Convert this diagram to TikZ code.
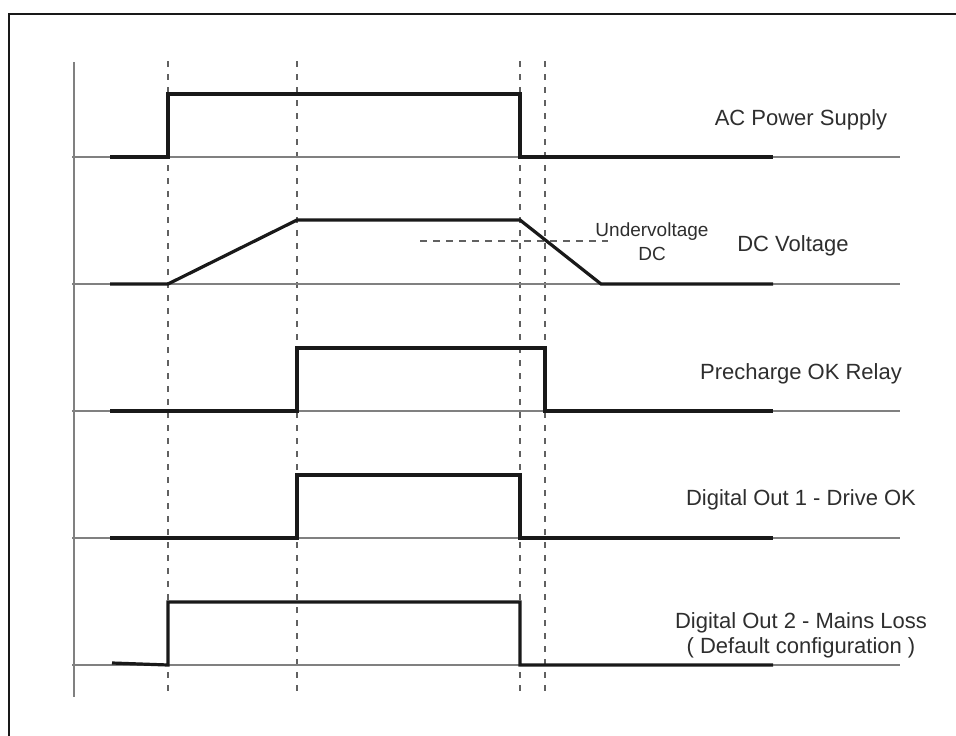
\documentclass[tikz,border=0pt]{standalone}
\usepackage{fontspec}
\setmainfont{Liberation Sans}
\begin{document}
\begin{tikzpicture}[x=1pt,y=-1pt,
  base/.style={draw=black!50, line width=1.6pt},
  sig/.style={draw=black!90, line width=3.2pt, line join=miter},
  guide/.style={draw=black!62, line width=1.6pt, dash pattern=on 6pt off 7pt},
  lbl/.style={text=black!82, font=\fontsize{22}{26}\selectfont, inner sep=0pt, align=center},
  slbl/.style={text=black!82, font=\fontsize{19}{22}\selectfont, inner sep=0pt, align=center}]
\useasboundingbox (0,0) rectangle (956,736);
% frame
\draw[line width=2pt, black!90] (8.5,736) -- (8.5,14) -- (956,14);
% guides
\foreach \gx in {168,297,520,545} {\draw[guide] (\gx,61) -- (\gx,698);}
% axis
\draw[base] (74,62) -- (74,697);
% baselines
\foreach \by in {157,284,411,538,665} {\draw[base] (72,\by) -- (900,\by);}
% undervoltage threshold
\coordinate (uvA) at (420,241);
\coordinate (uvB) at (608,241);
\draw[guide, dash pattern=on 7pt off 6pt] (uvA) -- (uvB);
% signals
\draw[sig] (110,157) -- (168,157) -- (168,94) -- (520,94) -- (520,157) -- (773,157);
\draw[sig] (110,284) -- (168,284) -- (297,220) -- (520,220) -- (601,284) -- (773,284);
\draw[sig] (110,411) -- (297,411) -- (297,348) -- (545,348) -- (545,411) -- (773,411);
\draw[sig] (110,538) -- (297,538) -- (297,475) -- (520,475) -- (520,538) -- (773,538);
\draw[sig] (112,663) -- (168,665) -- (168,602) -- (520,602) -- (520,665) -- (773,665);
% labels
\node[lbl] (ac) at (801,120) {AC Power Supply};
\node[lbl] (dc) at (793,246) {DC Voltage};
\node[slbl] (uv) at (652,232) {Undervoltage};
\node[slbl] (uvdc) at (652,254) {DC};
\node[lbl] (pre) at (801,374) {Precharge OK Relay};
\node[lbl] (do1) at (801,500) {Digital Out 1 - Drive OK};
\node[lbl] (do2) at (801,623) {Digital Out 2 - Mains Loss};
\node[lbl] (def) at (801,648) {( Default configuration )};
\end{tikzpicture}
\end{document}
